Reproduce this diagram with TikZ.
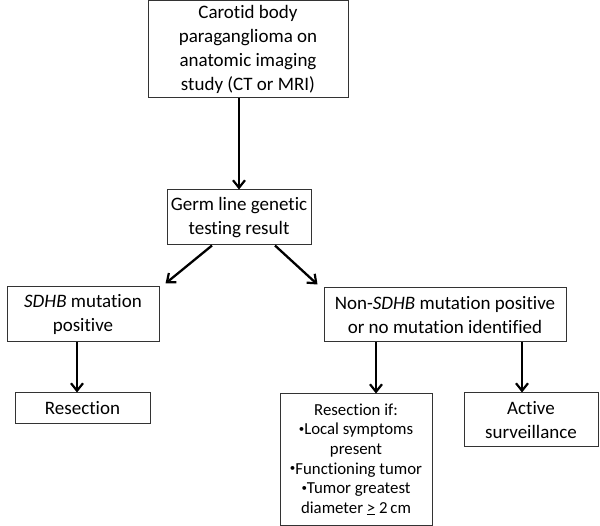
\documentclass[tikz,border=0pt]{standalone}
\usepackage{fontspec}
\setmainfont{Carlito}[Ligatures={NoCommon,NoRare,NoDiscretionary}]
\usetikzlibrary{arrows.meta}
\newcommand{\mybul}{\raisebox{0.3ex}{\fontsize{11}{11}\selectfont\textbullet}}
\begin{document}
\begin{tikzpicture}[x=1pt,y=1pt,
  box/.style={draw=black!80,line width=1pt,align=center,inner sep=2pt,font=\fontsize{19}{24}\selectfont},
  smallbox/.style={box,font=\fontsize{16.8}{19.6}\selectfont},
  arr/.style={line width=2.3pt,-{Straight Barb[length=7.5pt,width=12pt,line width=2.2pt]}}]
\useasboundingbox (0,0) rectangle (600,-526);
\node[box,minimum width=200,minimum height=97] (top) at (248,-49.5) {Carotid body\\paraganglioma on\\anatomic imaging\\study (CT or MRI)};
\node[box,minimum width=144,minimum height=55] (germ) at (239,-217.5) {Germ line genetic\\testing result};
\node[box,minimum width=152,minimum height=55] (sdhb) at (83,-314.5) {\textit{SDHB} mutation\\positive};
\node[box,minimum width=135,minimum height=31] (res) at (82.5,-408.5) {Resection};
\node[box,minimum width=242,minimum height=54] (non) at (445,-315) {Non-\textit{SDHB} mutation positive\\or no mutation identified};
\node[box,minimum width=134,minimum height=54] (act) at (531,-420) {Active\\surveillance};
\node[smallbox,minimum width=152,minimum height=131] (resif) at (356,-459.5) {Resection if:\\\mybul Local symptoms\\present\\\mybul Functioning tumor\\\mybul Tumor greatest\\diameter \underline{>} 2\,cm};
\draw[arr] (top.south -| germ.north) -- (germ.north);
\draw[arr] ([xshift=-27pt]germ.south) -- ([xshift=6pt,yshift=3pt]sdhb.north east);
\draw[arr] ([xshift=36pt]germ.south) -- ([xshift=-6pt,yshift=3pt]non.north west);
\draw[arr] ([xshift=-6pt]sdhb.south) -- ([xshift=-6pt]sdhb.south |- res.north);
\draw[arr] ([xshift=20pt]resif.north |- non.south) -- ([xshift=20pt]resif.north);
\draw[arr] ([xshift=-9pt]act.north |- non.south) -- ([xshift=-9pt]act.north);
\end{tikzpicture}
\end{document}
